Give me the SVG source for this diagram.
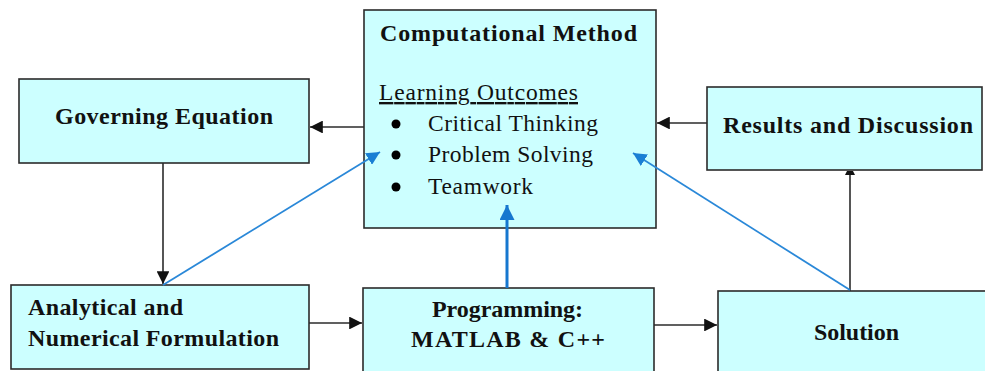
<svg xmlns="http://www.w3.org/2000/svg" width="985" height="371" viewBox="0 0 985 371" xml:space="preserve">
  <style>
    .box { fill: #ccffff; stroke: #2b2b2b; stroke-width: 1.6; }
    .title { font-family: "Liberation Serif", "Times New Roman", serif; font-weight: bold; font-size: 24px; fill: #111; }
    .item { font-family: "Liberation Serif", "Times New Roman", serif; font-size: 23.5px; fill: #111; }
    .dark { stroke: #2b2b2b; stroke-width: 1.6; fill: none; }
    .blue { stroke: #2a88d8; stroke-width: 1.8; fill: none; }
    .blue-thick { stroke: #1677cf; stroke-width: 3; fill: none; }
  </style>
  <defs>
    <marker id="ah-dark" viewBox="0 0 10 10" refX="10" refY="5" markerWidth="8" markerHeight="8" markerUnits="strokeWidth" orient="auto">
      <path d="M0,0 L10,5 L0,10 z" fill="#111"/>
    </marker>
    <marker id="ah-blue" viewBox="0 0 10 10" refX="10" refY="5" markerWidth="7.5" markerHeight="7.5" markerUnits="strokeWidth" orient="auto">
      <path d="M0,0 L10,5 L0,10 z" fill="#1a7fd4"/>
    </marker>
    <marker id="ah-blue-thick" viewBox="0 0 10 10" refX="10" refY="5" markerWidth="5" markerHeight="5" markerUnits="strokeWidth" orient="auto">
      <path d="M0,0 L10,5 L0,10 z" fill="#1677cf"/>
    </marker>
  </defs>

  <rect width="985" height="371" fill="#ffffff"/>

  <g id="computational-method">
    <rect class="box" x="364" y="10" width="292" height="218"/>
    <text class="title" x="380" y="41" textLength="257" lengthAdjust="spacing">Computational  Method</text>
    <text class="item" x="379" y="100" textLength="199" lengthAdjust="spacing" text-decoration="underline">Learning  Outcomes</text>
    <circle cx="396" cy="124" r="4.5" fill="#000"/>
    <circle cx="396" cy="155" r="4.5" fill="#000"/>
    <circle cx="396" cy="187" r="4.5" fill="#000"/>
    <text class="item" x="428" y="131" textLength="170" lengthAdjust="spacing">Critical  Thinking</text>
    <text class="item" x="428" y="162" textLength="165" lengthAdjust="spacing">Problem  Solving</text>
    <text class="item" x="428" y="194" textLength="105" lengthAdjust="spacing">Teamwork</text>
  </g>

  <g id="governing-equation">
    <rect class="box" x="19" y="79" width="290" height="84"/>
    <text class="title" x="55" y="124" textLength="218" lengthAdjust="spacing">Governing  Equation</text>
  </g>

  <g id="results-discussion">
    <rect class="box" x="707" y="87" width="275" height="83"/>
    <text class="title" x="723" y="133" textLength="250" lengthAdjust="spacing">Results and Discussion</text>
  </g>

  <g id="analytical-numerical">
    <rect class="box" x="11" y="285" width="298" height="84"/>
    <text class="title" x="28" y="315" textLength="155" lengthAdjust="spacing">Analytical  and</text>
    <text class="title" x="28" y="346" textLength="251" lengthAdjust="spacing">Numerical  Formulation</text>
  </g>

  <g id="programming">
    <rect class="box" x="363" y="288" width="291" height="95"/>
    <text class="title" x="432" y="317" textLength="151" lengthAdjust="spacing">Programming:</text>
    <text class="title" x="411" y="347" textLength="194" lengthAdjust="spacing">MATLAB &amp; C++</text>
  </g>

  <g id="solution">
    <rect class="box" x="718" y="291" width="280" height="92"/>
    <text class="title" x="814" y="340" textLength="85" lengthAdjust="spacing">Solution</text>
  </g>

  <g id="connectors">
    <!-- flow arrows -->
    <line class="dark" x1="364" y1="127" x2="310" y2="127" marker-end="url(#ah-dark)"/>
    <line class="dark" x1="707" y1="123" x2="657" y2="123" marker-end="url(#ah-dark)"/>
    <line class="dark" x1="163" y1="163" x2="163" y2="284" marker-end="url(#ah-dark)"/>
    <line class="dark" x1="309" y1="323" x2="362" y2="323" marker-end="url(#ah-dark)"/>
    <line class="dark" x1="654" y1="325" x2="717" y2="325" marker-end="url(#ah-dark)"/>
    <line class="dark" x1="850" y1="291" x2="850" y2="174"/>
    <polygon points="845,175 855,175 853,171 847,171" fill="#111"/>
    <!-- learning-outcome links -->
    <line class="blue" x1="163" y1="285" x2="380" y2="152" marker-end="url(#ah-blue)"/>
    <line class="blue" x1="850" y1="290" x2="633" y2="153" marker-end="url(#ah-blue)"/>
    <line class="blue-thick" x1="507" y1="288" x2="507" y2="205" marker-end="url(#ah-blue-thick)"/>
  </g>
</svg>
